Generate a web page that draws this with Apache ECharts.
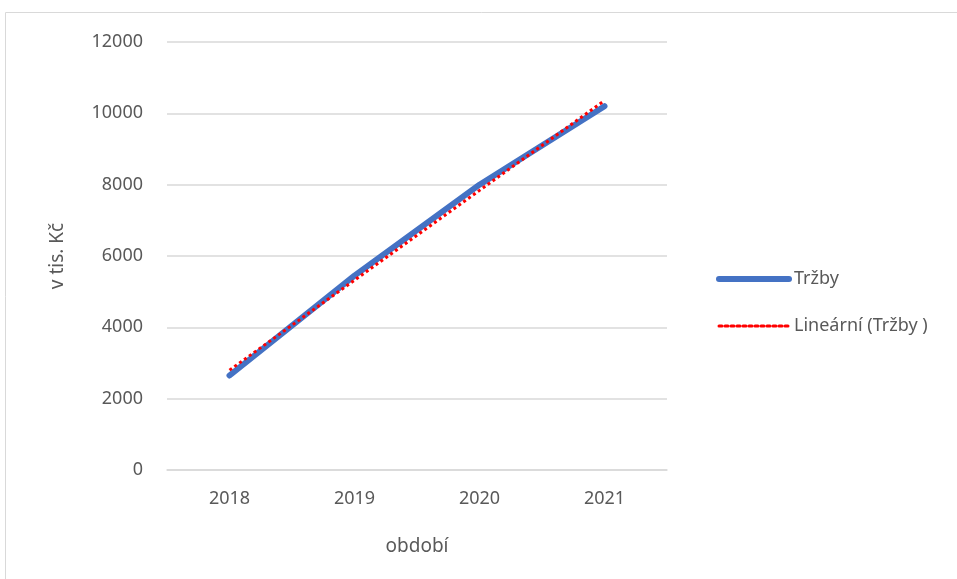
<!DOCTYPE html>
<html lang="cs">
<head>
    <meta charset="UTF-8">
    <title>Tržby</title>
    <style type="text/css">
        html, body { margin: 0; padding: 0; background: #fff; }
        #chart { width: 957px; height: 579px; }
    </style>
    <script src="https://cdn.jsdelivr.net/npm/echarts@6/dist/echarts.min.js"></script>
</head>
<body>
<div id="chart"></div>
<script type="application/javascript">
    var years = ['2018', '2019', '2020', '2021'];
    var trzby = [2650, 5450, 8000, 10200];
    // linear trend
    var trend = [2800, 5320, 7840, 10360];

    var textColor = '#595959';
    var font = 'Noto Sans';

    var myChart = echarts.init(document.getElementById('chart'));
    var option = {
        animation: false,
        textStyle: { fontFamily: font },
        graphic: [{
            type: 'rect',
            shape: { x: 5.5, y: 12.5, width: 1000, height: 600 },
            style: { fill: 'none', stroke: '#d9d9d9', lineWidth: 1 },
            silent: true
        }],
        legend: {
            orient: 'vertical',
            left: 711,
            top: 265,
            itemWidth: 70,
            itemHeight: 14,
            itemGap: 29,
            itemStyle: { opacity: 0 },
            lineStyle: { width: 'inherit', type: 'inherit', cap: 'round' },
            textStyle: { color: textColor, fontSize: 18, fontFamily: font },
            data: ['Tržby', 'Lineární (Tržby )']
        },
        grid: { left: 167, right: 290, top: 42, bottom: 109 },
        xAxis: {
            type: 'category',
            data: years,
            boundaryGap: true,
            name: 'období',
            nameLocation: 'middle',
            nameGap: 67,
            nameTextStyle: { color: textColor, fontSize: 19, fontFamily: font },
            axisLine: { lineStyle: { color: '#d9d9d9', width: 1.5 } },
            axisTick: { show: false },
            axisLabel: { color: textColor, fontSize: 18, margin: 20 }
        },
        yAxis: {
            type: 'value',
            min: 0,
            max: 12000,
            interval: 2000,
            name: 'v tis. Kč',
            nameLocation: 'middle',
            nameGap: 100,
            nameTextStyle: { color: textColor, fontSize: 19, fontFamily: font },
            axisLine: { show: false },
            axisTick: { show: false },
            splitLine: { lineStyle: { color: '#d9d9d9', width: 1.5 } },
            axisLabel: {
                color: textColor, fontSize: 18, margin: 24,
                formatter: function (v) { return String(v); }
            }
        },
        series: [
            {
                name: 'Tržby',
                type: 'line',
                data: trzby,
                symbol: 'none',
                lineStyle: { color: '#4472c4', width: 6, cap: 'round', join: 'round' },
                itemStyle: { color: '#4472c4' },
                z: 2
            },
            {
                name: 'Lineární (Tržby )',
                type: 'line',
                data: trend,
                symbol: 'none',
                lineStyle: { color: '#ff0000', width: 3, type: [3, 3] },
                itemStyle: { color: '#ff0000' },
                z: 3
            }
        ]
    };
    myChart.setOption(option);
</script>
</body>
</html>
